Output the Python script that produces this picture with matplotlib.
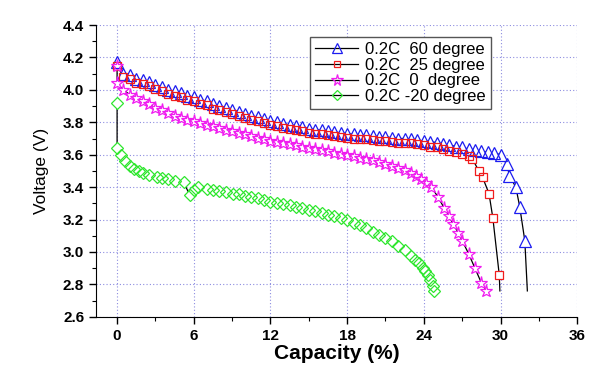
import matplotlib
matplotlib.use("Agg")
import matplotlib.pyplot as plt
from matplotlib.lines import Line2D
from matplotlib.ticker import MultipleLocator, FormatStrFormatter

plt.rcParams["font.family"] = ["Liberation Sans", "DejaVu Sans"]

# 0.2C 60 degree (blue)
cap_60 = [0, 0.5, 1, 1.5, 2, 2.5, 3, 3.5, 4, 4.5, 5, 5.5, 6, 6.5, 7, 7.5, 8, 8.5, 9, 9.5,
          10, 10.5, 11, 11.5, 12, 12.5, 13, 13.5, 14, 14.5, 15, 15.5, 16, 16.5, 17, 17.5,
          18, 18.5, 19, 19.5, 20, 20.5, 21, 21.5, 22, 22.5, 23, 23.5, 24, 24.5, 25, 25.5,
          26, 26.5, 27, 27.5, 28, 28.5, 29, 29.5, 30, 30.5, 30.7, 31.2, 31.5, 31.9, 32.1]
volt_60 = [4.17, 4.10, 4.09, 4.07, 4.06, 4.05, 4.03, 4.02, 4.00, 3.99, 3.98, 3.965, 3.955,
           3.94, 3.93, 3.91, 3.90, 3.89, 3.875, 3.865, 3.85, 3.84, 3.83, 3.82, 3.81, 3.80,
           3.79, 3.785, 3.775, 3.77, 3.76, 3.755, 3.75, 3.745, 3.74, 3.735, 3.73, 3.725,
           3.72, 3.72, 3.715, 3.71, 3.71, 3.705, 3.70, 3.70, 3.695, 3.69, 3.685, 3.68,
           3.675, 3.665, 3.66, 3.65, 3.645, 3.635, 3.63, 3.62, 3.615, 3.61, 3.60, 3.54,
           3.47, 3.40, 3.28, 3.07, 2.76]

# 0.2C 25 degree (red)
cap_25 = [0, 0.5, 1, 1.5, 2, 2.5, 3, 3.5, 4, 4.5, 5, 5.5, 6, 6.5, 7, 7.5, 8, 8.5, 9, 9.5,
          10, 10.5, 11, 11.5, 12, 12.5, 13, 13.5, 14, 14.5, 15, 15.5, 16, 16.5, 17, 17.5,
          18, 18.5, 19, 19.5, 20, 20.5, 21, 21.5, 22, 22.5, 23, 23.5, 24, 24.5, 25, 25.5,
          26, 26.5, 27, 27.5, 27.8, 28.3, 28.6, 29.1, 29.4, 29.9, 29.95]
volt_25 = [4.15, 4.08, 4.065, 4.045, 4.035, 4.025, 4.005, 3.995, 3.975, 3.965, 3.955, 3.94,
           3.93, 3.915, 3.905, 3.885, 3.875, 3.865, 3.85, 3.84, 3.825, 3.815, 3.805, 3.795,
           3.785, 3.775, 3.765, 3.76, 3.75, 3.745, 3.735, 3.73, 3.725, 3.72, 3.715, 3.71,
           3.705, 3.70, 3.695, 3.695, 3.69, 3.685, 3.685, 3.68, 3.675, 3.675, 3.67, 3.665,
           3.66, 3.65, 3.645, 3.635, 3.625, 3.615, 3.605, 3.59, 3.575, 3.50, 3.46, 3.36,
           3.21, 2.86, 2.76]

# 0.2C 0 degree (magenta)
cap_0 = [0, 0, 0.5, 1, 1.5, 2, 2.5, 3, 3.5, 4, 4.5, 5, 5.5, 6, 6.5, 7, 7.5, 8, 8.5, 9, 9.5,
         10, 10.5, 11, 11.5, 12, 12.5, 13, 13.5, 14, 14.5, 15, 15.5, 16, 16.5, 17, 17.5,
         18, 18.5, 19, 19.5, 20, 20.5, 21, 21.5, 22, 22.5, 23, 23.4, 23.8, 24.2, 24.6,
         25.1, 25.6, 26.0, 26.3, 26.7, 27.0, 27.5, 28.0, 28.5, 28.9]
volt_0 = [4.15, 4.04, 4.00, 3.97, 3.95, 3.93, 3.91, 3.89, 3.875, 3.86, 3.84, 3.825, 3.815,
          3.805, 3.795, 3.785, 3.775, 3.765, 3.755, 3.745, 3.735, 3.725, 3.715, 3.705,
          3.695, 3.687, 3.68, 3.672, 3.665, 3.657, 3.65, 3.642, 3.635, 3.627, 3.62, 3.612,
          3.605, 3.597, 3.59, 3.582, 3.574, 3.565, 3.555, 3.545, 3.533, 3.52, 3.505, 3.49,
          3.47, 3.45, 3.425, 3.40, 3.34, 3.27, 3.22, 3.17, 3.12, 3.07, 2.99, 2.90, 2.81,
          2.76]

# 0.2C -20 degree (green)
cap_m20 = [0, 0, 0.3, 0.6, 1.0, 1.3, 1.7, 2.0, 2.5, 3.1, 3.5, 4.0, 4.5, 5.2, 5.7, 6.0, 6.3,
           7, 7.5, 8, 8.5, 9.1, 9.5, 10, 10.5, 11, 11.5, 12, 12.5, 13, 13.5, 14, 14.5, 15,
           15.5, 16, 16.5, 17, 17.5, 18, 18.5, 19, 19.5, 20, 20.5, 21, 21.5, 22, 22.5, 23,
           23.3, 23.6, 23.9, 24.1, 24.3, 24.5, 24.7, 24.8]
volt_m20 = [3.92, 3.64, 3.60, 3.56, 3.53, 3.51, 3.50, 3.49, 3.475, 3.46, 3.455, 3.45, 3.44,
            3.43, 3.35, 3.38, 3.40, 3.39, 3.385, 3.375, 3.37, 3.36, 3.355, 3.345, 3.34,
            3.33, 3.32, 3.31, 3.302, 3.295, 3.287, 3.28, 3.27, 3.26, 3.25, 3.24, 3.23,
            3.22, 3.21, 3.195, 3.18, 3.165, 3.145, 3.125, 3.105, 3.085, 3.065, 3.04, 3.01,
            2.975, 2.95, 2.93, 2.90, 2.88, 2.86, 2.83, 2.79, 2.76]

labels = ["0.2C  60 degree", "0.2C  25 degree", "0.2C  0  degree", "0.2C -20 degree"]
markers = ["^", "s", "*", "D"]
colors = ["#1c1cf0", "#f01c1c", "#f01cf0", "#2ee62e"]
msize = [8, 6, 9.5, 6.5]

fig = plt.figure(figsize=(6.0, 3.79), dpi=100)
ax = fig.add_axes([0.16, 0.164, 0.802, 0.77])

data = [(cap_60, volt_60, 1), (cap_25, volt_25, 1), (cap_0, volt_0, 0), (cap_m20, volt_m20, 0)]
handles = []
for (x, y, skip_last), mk, col, ms, lab in zip(data, markers, colors, msize, labels):
    n = len(x) - skip_last
    # black connecting line, hidden under the white marker bodies
    ax.plot(x, y, color="black", lw=0.9, zorder=2)
    ax.plot(x[:n], y[:n], ls="none", marker=mk, ms=ms, mfc="white", mec="none", zorder=3)
    # open coloured marker outlines on top
    ax.plot(x[:n], y[:n], ls="none", marker=mk, ms=ms, mfc="none", mec=col,
            mew=0.9, zorder=4)
    handles.append(Line2D([], [], color="black", lw=0.9, marker=mk, ms=ms - 1,
                          mfc="none", mec=col, mew=0.9, label=lab))

ax.set_xlim(-1.65, 36)
ax.set_ylim(2.6, 4.4)
ax.xaxis.set_major_locator(MultipleLocator(6))
ax.xaxis.set_minor_locator(MultipleLocator(3))
ax.yaxis.set_major_locator(MultipleLocator(0.2))
ax.yaxis.set_minor_locator(MultipleLocator(0.1))
ax.yaxis.set_major_formatter(FormatStrFormatter("%.1f"))

ax.spines["top"].set_visible(False)
ax.spines["right"].set_visible(False)
ax.tick_params(which="major", direction="out", length=5, width=1, labelsize=11)
ax.tick_params(which="minor", direction="out", length=3, width=0.8)
for t in ax.get_xticklabels() + ax.get_yticklabels():
    t.set_fontweight("bold")

ax.grid(True, which="major", color="#8c8ce0", linestyle=(0, (1, 2)), lw=0.8)
ax.set_axisbelow(True)

ax.set_xlabel("Capacity (%)", fontsize=15, fontweight="bold", labelpad=1)
ax.set_ylabel("Voltage (V)", fontsize=12.5, labelpad=10)

leg = ax.legend(handles=handles, loc="upper left", bbox_to_anchor=(0.445, 0.96),
                fontsize=12, frameon=True, fancybox=False, framealpha=1,
                edgecolor="#555555", handlelength=2.6, borderpad=0.3,
                labelspacing=0.05, handletextpad=0.4, borderaxespad=0)
leg.set_zorder(10)
leg.get_frame().set_linewidth(1.0)

fig.savefig("out.png", dpi=100)
